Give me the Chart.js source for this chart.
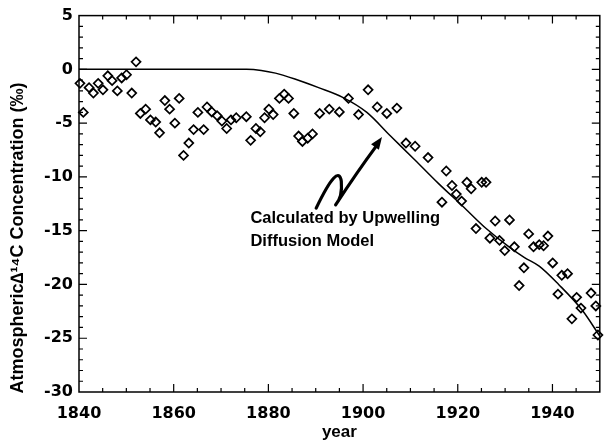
<!DOCTYPE html>
<html>
<head>
<meta charset="utf-8">
<script src="https://cdn.jsdelivr.net/npm/chart.js@4.4.1/dist/chart.umd.min.js"></script>
<style>
  html, body { margin: 0; padding: 0; background: #fff; }
  #wrap { width: 606px; height: 440px; }
</style>
</head>
<body>
<div id="wrap"><canvas id="c14_chart"></canvas></div>
<script>
// measured tree-ring values (diamonds)
const measuredYears = [
  1840.2, 1840.91, 1842.13, 1843.04, 1844.05, 1845.06, 1846.08, 1846.99, 1848.1, 1849.01,
  1850.03, 1851.14, 1852.05, 1852.96, 1854.08, 1855.09, 1856.2, 1857.01, 1858.13, 1859.14,
  1860.25, 1861.16, 1862.08, 1863.19, 1864.2, 1865.11, 1866.33, 1867.04, 1868.05, 1869.16,
  1870.18, 1871.19, 1872.1, 1873.21, 1875.34, 1876.25, 1877.37, 1878.28, 1879.19, 1880.1,
  1881.01, 1882.33, 1883.34, 1884.25, 1885.37, 1886.38, 1887.19, 1888.3, 1889.32, 1890.83,
  1892.86, 1894.99, 1896.91, 1899.04, 1901.06, 1902.99, 1905.01, 1907.14, 1909.06, 1910.99,
  1913.72, 1916.66, 1917.57, 1918.78, 1919.69, 1920.81, 1921.92, 1922.83, 1923.85, 1925.06,
  1925.97, 1926.78, 1927.9, 1928.81, 1929.92, 1930.93, 1931.95, 1932.96, 1933.97, 1934.98,
  1936.0, 1937.21, 1938.12, 1939.04, 1940.05, 1941.16, 1941.97, 1943.19, 1944.1, 1945.11,
  1946.02, 1948.15, 1949.16, 1949.6
];
const measuredValues = [
  -1.3, -4.0, -1.7, -2.2, -1.3, -1.9, -0.6, -1.05, -2.0, -0.8,
  -0.5, -2.2, 0.7, -4.1, -3.7, -4.7, -4.9, -5.9, -2.9, -3.7,
  -5.0, -2.7, -8.0, -6.85, -5.6, -4.0, -5.6, -3.5, -3.96, -4.3,
  -4.8, -5.5, -4.7, -4.5, -4.4, -6.6, -5.5, -5.8, -4.5, -3.7,
  -4.2, -2.7, -2.3, -2.7, -4.1, -6.2, -6.7, -6.4, -6.0, -4.1,
  -3.7, -3.96, -2.7, -4.2, -1.9, -3.5, -4.1, -3.6, -6.85, -7.15,
  -8.2, -12.35, -9.45, -10.8, -11.6, -12.25, -10.5, -11.1, -14.8, -10.5,
  -10.5, -15.7, -14.1, -15.9, -16.85, -14.0, -16.5, -20.1, -18.45, -15.3,
  -16.5, -16.3, -16.4, -15.5, -18.0, -20.9, -19.15, -19.0, -23.2, -21.2,
  -22.2, -20.8, -22.0, -24.7
];

// upwelling diffusion model curve
const modelYears = [1840, 1850, 1860, 1870, 1875.4, 1878.5, 1881.5, 1885.6, 1890.6, 1895.7, 1900.8, 1905.8, 1910.9, 1915.9, 1921, 1926, 1931.1, 1934.1, 1937.2, 1941.3, 1946.3, 1950];
const modelValues = [0, 0, 0, 0, 0, -0.1, -0.35, -0.9, -1.7, -2.6, -4.0, -6.2, -8.4, -10.6, -12.7, -14.8, -16.6, -17.5, -18.3, -20.0, -22.4, -24.8];

const xTicks = [1840, 1860, 1880, 1900, 1920, 1940];
const yTicks = [5, 0, -5, -10, -15, -20, -25, -30];

const FONT = '"Liberation Sans", Arial, Helvetica, sans-serif';
const TICK_FONT = '"DejaVu Sans", Verdana, sans-serif';

// frame, inward ticks, y title and the annotation with its squiggly arrow
const framePlugin = {
  id: 'frame',
  afterDraw(chart) {
    const { ctx, chartArea: a, scales: { x, y } } = chart;
    ctx.save();
    ctx.strokeStyle = '#000';
    ctx.lineWidth = 1.5;
    ctx.strokeRect(a.left, a.top, a.right - a.left, a.bottom - a.top);

    ctx.lineWidth = 1.2;
    ctx.beginPath();
    for (let yr = 1845; yr < 1950; yr += 5) {
      const px = x.getPixelForValue(yr);
      const len = yr % 20 === 0 ? 8 : 4;
      ctx.moveTo(px, a.bottom); ctx.lineTo(px, a.bottom - len);
      ctx.moveTo(px, a.top); ctx.lineTo(px, a.top + len);
    }
    for (let v = -29; v < 5; v++) {
      const py = y.getPixelForValue(v);
      const len = v % 5 === 0 ? 8 : 4;
      ctx.moveTo(a.left, py); ctx.lineTo(a.left + len, py);
      ctx.moveTo(a.right, py); ctx.lineTo(a.right - len, py);
    }
    ctx.stroke();

    ctx.fillStyle = '#000';

    // y axis title
    ctx.save();
    ctx.translate(18, 238);
    ctx.rotate(-Math.PI / 2);
    ctx.font = 'bold 18px ' + FONT;
    ctx.textAlign = 'center';
    ctx.textBaseline = 'middle';
    ctx.fillText('Atmospheric\u2206\u00b9\u2074C Concentration (\u2030)', 0, 0);
    ctx.restore();

    // annotation text
    ctx.font = 'bold 16.5px ' + FONT;
    ctx.textBaseline = 'middle';
    ctx.textAlign = 'left';
    ctx.fillText('Calculated by Upwelling', x.getPixelForValue(1876.2), y.getPixelForValue(-13.9));
    ctx.fillText('Diffusion Model', x.getPixelForValue(1876.2), y.getPixelForValue(-16.0));

    // squiggly arrow
    const P = (yr, v) => [x.getPixelForValue(yr), y.getPixelForValue(v)];
    const s0 = P(1890.1, -12.9), c1 = P(1894.8, -8.6), m1 = P(1895.4, -10.4);
    const c2 = P(1895.7, -11.9), m2 = P(1894.2, -12.6);
    const c3 = P(1898.8, -9.5), tip = P(1904.0, -6.3);
    ctx.lineWidth = 3.2;
    ctx.lineCap = 'round';
    ctx.lineJoin = 'round';
    ctx.beginPath();
    ctx.moveTo(s0[0], s0[1]);
    ctx.quadraticCurveTo(c1[0], c1[1], m1[0], m1[1]);
    ctx.quadraticCurveTo(c2[0], c2[1], m2[0], m2[1]);
    ctx.quadraticCurveTo(c3[0], c3[1], tip[0] - 5, tip[1] + 8);
    ctx.stroke();
    const ang = Math.atan2(tip[1] - c3[1], tip[0] - c3[0]);
    ctx.beginPath();
    ctx.moveTo(tip[0], tip[1]);
    ctx.lineTo(tip[0] - 13 * Math.cos(ang - 0.38), tip[1] - 13 * Math.sin(ang - 0.38));
    ctx.lineTo(tip[0] - 13 * Math.cos(ang + 0.38), tip[1] - 13 * Math.sin(ang + 0.38));
    ctx.closePath();
    ctx.fill();
    ctx.restore();
  }
};

const chartContext = document.getElementById('c14_chart').getContext('2d');
const chart = new Chart(chartContext, {
  type: 'scatter',
  data: {
    datasets: [
      {
        label: 'Measured',
        data: measuredYears.map((yr, i) => ({ x: yr, y: measuredValues[i] })),
        pointStyle: 'rectRot',
        pointRadius: 4.5,
        pointBorderWidth: 1.7,
        borderColor: '#000',
        backgroundColor: 'rgba(255,255,255,0)',
        showLine: false,
        clip: 6,
      },
      {
        label: 'Upwelling Diffusion Model',
        data: modelYears.map((yr, i) => ({ x: yr, y: modelValues[i] })),
        showLine: true,
        pointRadius: 0,
        borderColor: '#000',
        borderWidth: 1.5,
        cubicInterpolationMode: 'monotone',
      },
    ],
  },
  options: {
    responsive: true,
    maintainAspectRatio: false,
    animation: false,
    layout: { padding: { top: 12, right: 2, left: 0, bottom: 0 } },
    plugins: { legend: { display: false }, tooltip: { enabled: false } },
    scales: {
      x: {
        type: 'linear',
        min: 1840,
        max: 1950,
        afterBuildTicks: (s) => { s.ticks = xTicks.map((v) => ({ value: v })); },
        afterFit: (s) => { s.height = 48; },
        grid: { display: false, drawTicks: false },
        border: { display: false },
        ticks: {
          color: '#000',
          padding: 12,
          maxRotation: 0,
          font: { family: TICK_FONT, size: 16, weight: 'bold' },
          callback: (v) => String(v),
        },
        title: {
          display: true,
          text: 'year',
          color: '#000',
          padding: { top: 0, bottom: -3 },
          font: { family: FONT, size: 17, weight: 'bold' },
        },
      },
      y: {
        min: -30,
        max: 5,
        afterBuildTicks: (s) => { s.ticks = yTicks.map((v) => ({ value: v })); },
        afterFit: (s) => { s.width = 79; },
        grid: { display: false, drawTicks: false },
        border: { display: false },
        ticks: {
          color: '#000',
          padding: 6,
          font: { family: TICK_FONT, size: 16, weight: 'bold' },
          callback: (v) => String(v),
        },
      },
    },
  },
  plugins: [framePlugin],
});
</script>
</body>
</html>
